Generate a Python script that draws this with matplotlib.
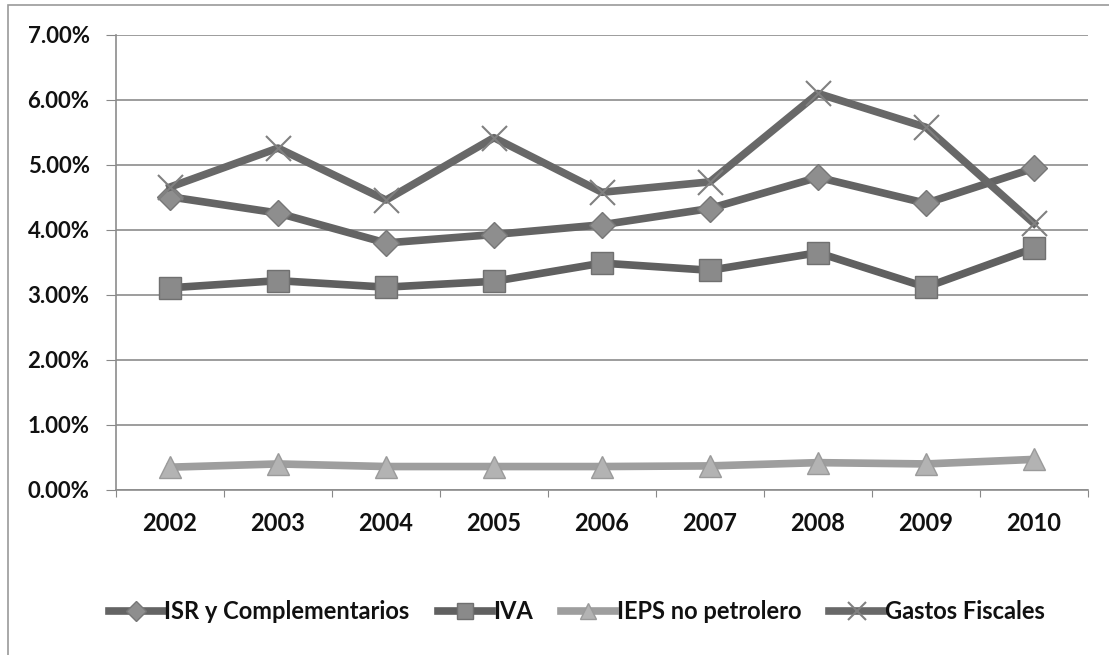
import numpy as np
import matplotlib.pyplot as plt
from matplotlib.patches import Rectangle
from matplotlib.ticker import FixedLocator, FuncFormatter

plt.rcParams['font.family'] = ['Lato', 'DejaVu Sans']

# Datos (% del PIB)
years = ['2002', '2003', '2004', '2005', '2006', '2007', '2008', '2009', '2010']
isr = [4.51, 4.26, 3.80, 3.93, 4.08, 4.33, 4.81, 4.41, 4.95]
iva = [3.11, 3.22, 3.12, 3.21, 3.49, 3.38, 3.65, 3.12, 3.72]
ieps = [0.35, 0.40, 0.36, 0.36, 0.36, 0.37, 0.42, 0.40, 0.47]
gastos = [4.66, 5.26, 4.46, 5.42, 4.58, 4.74, 6.10, 5.58, 4.10]

fig = plt.figure(figsize=(11.09, 6.55), dpi=100)
ax = fig.add_axes([0.1046, 0.252, 0.8764, 0.6946])

x = np.arange(len(years))
ax.plot(x, isr, color='#646464', lw=5.5, marker='D', ms=13,
        mfc='#8e8e8e', mec='#777777', mew=1, label='ISR y Complementarios', zorder=3)
ax.plot(x, iva, color='#606060', lw=5.5, marker='s', ms=16,
        mfc='#8a8a8a', mec='#707070', mew=1, label='IVA', zorder=3)
ax.plot(x, ieps, color='#9e9e9e', lw=5.5, marker='^', ms=16,
        mfc='#b3b3b3', mec='#9a9a9a', mew=1, label='IEPS no petrolero', zorder=3)
ax.plot(x, gastos, color='#686868', lw=5.5, marker='x', ms=18,
        mec='#808080', mew=1.5, label='Gastos Fiscales', zorder=4)

ax.set_xlim(-0.5, len(years) - 0.5)
ax.set_ylim(0, 7)
ax.set_yticks(np.arange(0, 7.01, 1))
ax.yaxis.set_major_formatter(FuncFormatter(lambda v, p: '%.2f%%' % v))
ax.yaxis.grid(True, color='#8c8c8c', lw=1.2)
ax.set_axisbelow(True)

# marcas en los limites de cada categoria, etiquetas al centro
ax.xaxis.set_major_locator(FixedLocator(np.arange(-0.5, len(years), 1)))
ax.xaxis.set_major_formatter(FuncFormatter(lambda v, p: ''))
ax.xaxis.set_minor_locator(FixedLocator(x))
ax.set_xticklabels(years, minor=True)
ax.tick_params(axis='x', which='major', length=5, color='#888888', direction='out')
ax.tick_params(axis='x', which='minor', length=0, pad=16, labelsize=17)
ax.tick_params(axis='y', length=7, color='#888888', pad=12, labelsize=16)
for lab in ax.get_xticklabels(minor=True) + ax.get_yticklabels():
    lab.set_fontweight('bold')
    lab.set_color('#111111')

for side in ['top', 'right']:
    ax.spines[side].set_visible(False)
ax.spines['left'].set_color('#8c8c8c')
ax.spines['bottom'].set_color('#8c8c8c')
ax.spines['left'].set_linewidth(1.2)
ax.spines['bottom'].set_linewidth(1.2)

leg = fig.legend(loc='center', bbox_to_anchor=(0.52, 0.066), ncol=4, frameon=False,
                 handlelength=2.3, handletextpad=0.05, columnspacing=1.2,
                 markerscale=0.75, prop={'size': 17, 'weight': 'bold'})
for t in leg.get_texts():
    t.set_color('#111111')

# marco del area del grafico
fig.patches.append(Rectangle((0.007, -0.05), 1.2, 0.042 + 0.05 + 0.95,
                             transform=fig.transFigure, fill=False,
                             edgecolor='#9a9a9a', lw=1.2))

fig.savefig('out.png', dpi=100)
